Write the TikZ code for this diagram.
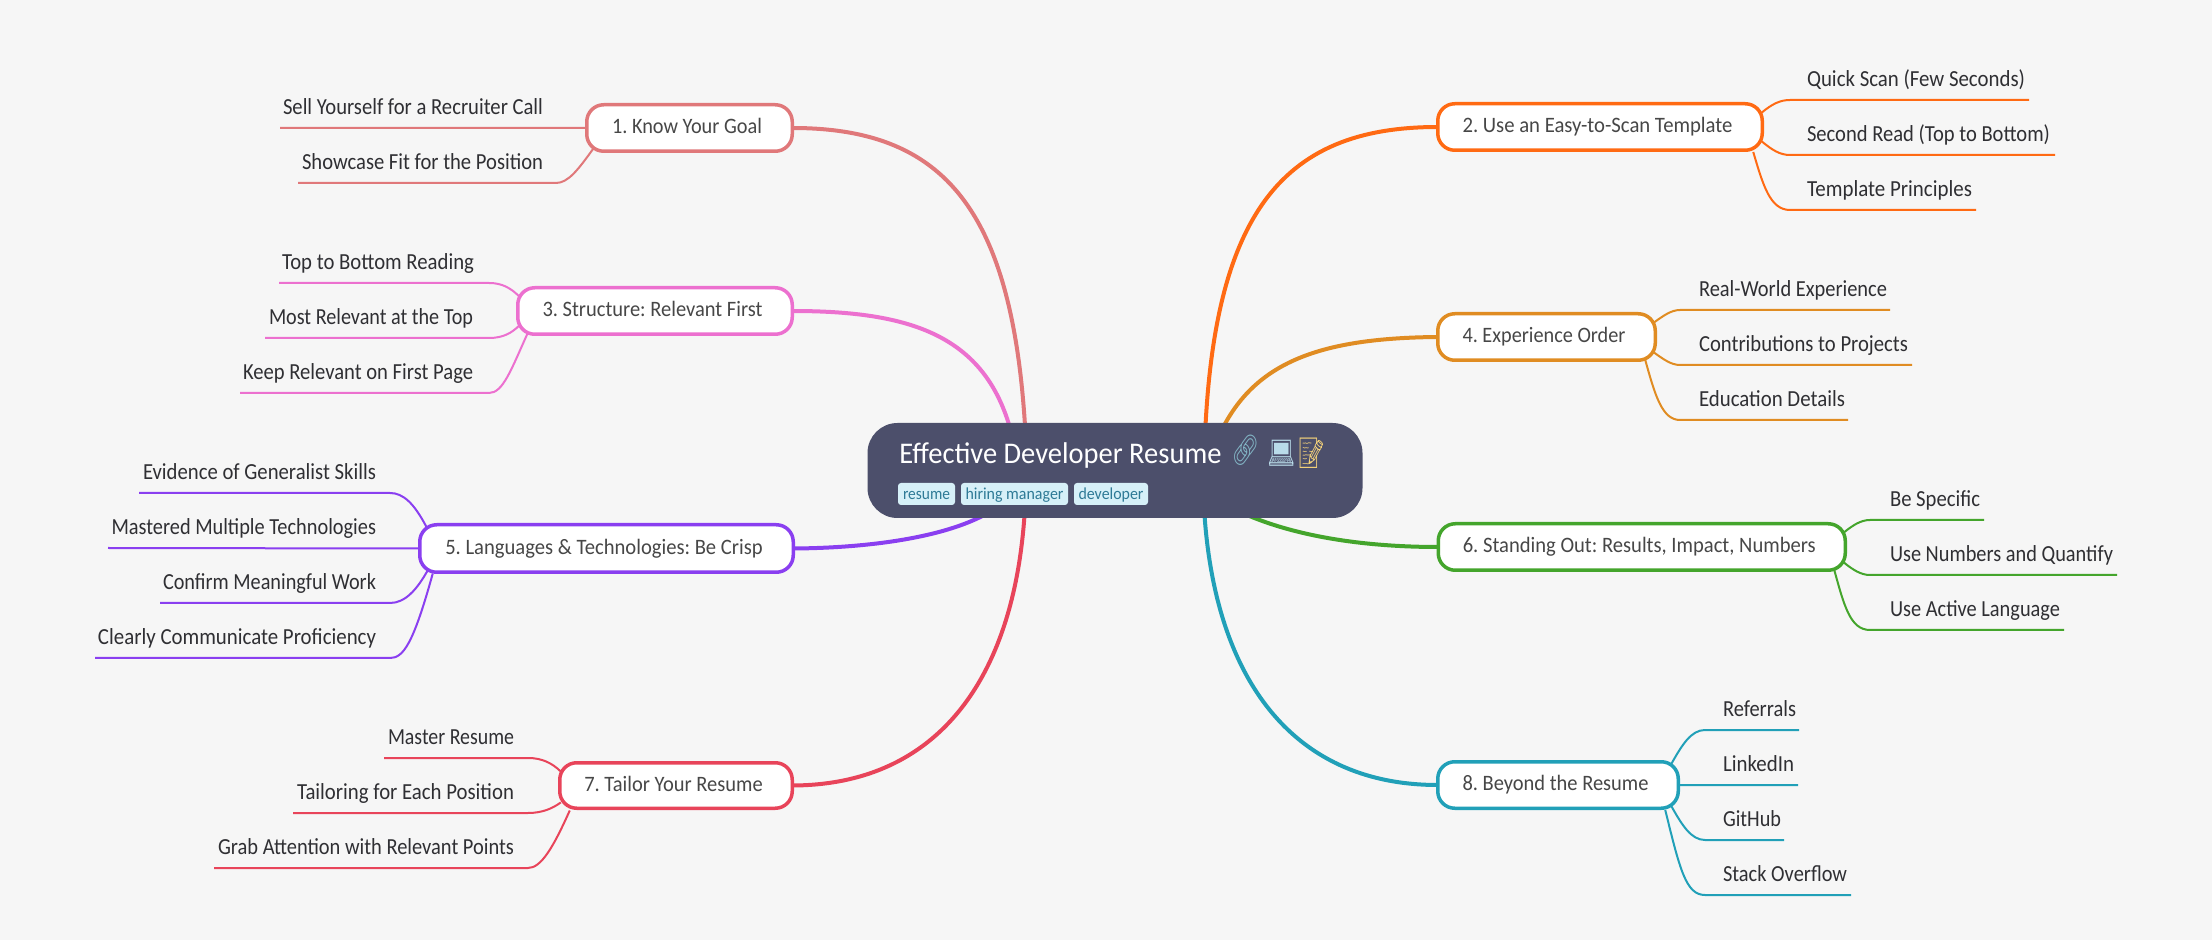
\documentclass[tikz,border=0pt]{standalone}
\usepackage{graphicx}
\usepackage{fontspec}
\setmainfont{Carlito}
\newfontfamily\emo{Noto Emoji}
\newlength\pxu
\setlength\pxu{0.5pt}
\definecolor{bgc}{HTML}{F6F6F6}
\definecolor{rootc}{HTML}{4C4F6B}
\definecolor{tagc}{HTML}{D6F0F8}
\definecolor{tagt}{HTML}{2E7A96}
\definecolor{leaft}{HTML}{2F2F33}
\definecolor{topict}{HTML}{474747}
\definecolor{cLink}{HTML}{82B4C4}
\definecolor{cLap}{HTML}{B9DBE9}
\definecolor{cMemo}{HTML}{F4D27A}
\definecolor{cA}{HTML}{E0787A}
\definecolor{cB}{HTML}{FF6A13}
\definecolor{cC}{HTML}{EC70CF}
\definecolor{cD}{HTML}{E08C22}
\definecolor{cE}{HTML}{8A3FF0}
\definecolor{cF}{HTML}{44A52C}
\definecolor{cG}{HTML}{E8445A}
\definecolor{cH}{HTML}{21A0B8}
\pgfdeclarelayer{conn}
\pgfsetlayers{conn,main}
\frenchspacing
\newcommand\tw[2]{\resizebox{#1\pxu}{\height}{#2}}
\tikzset{
  rootbox/.style={fill=rootc,draw=none,rounded corners=15pt,inner sep=0,outer sep=0,minimum width=495\pxu,minimum height=95\pxu},
  titletext/.style={anchor=base west,inner sep=0,text=white,font=\fontsize{15pt}{17pt}\selectfont},
  emoji/.style={anchor=base west,inner sep=0,font=\emo\fontsize{15pt}{17pt}\selectfont},
  tagbox/.style={fill=tagc,rounded corners=1.5pt,inner sep=0,outer sep=0,minimum height=22\pxu,text=tagt,text height=8pt,text depth=2pt,font=\fontsize{8.4pt}{10pt}\selectfont},
  topicbox/.style={fill=white,draw=#1,line width=1.75pt,rounded corners=8.5pt,inner sep=0,outer sep=0,text=topict,text height=8pt,text depth=2pt,font=\fontsize{11pt}{13pt}\selectfont},
  leafbox/.style={anchor=base west,inner sep=0,outer sep=0,text=leaft,text depth=13.8\pxu,font=\fontsize{11.5pt}{13pt}\selectfont},
  thick link/.style={draw=#1,line width=2pt},
  thin link/.style={draw=#1,line width=1pt},
}
\newcommand\topic[7]{% name colour cx cy w h textwidth+text
  \node[topicbox=#2,minimum width=#5\pxu-3.5\pxu,minimum height=#6\pxu-3.5\pxu] (#1) at (#3,#4) {\hspace*{-5\pxu}#7};}
\newcommand\leaf[7]{% name x1 x2 tx1 tx2 liney text
  \pgfmathsetmacro\padL{#4-#2}\pgfmathsetmacro\padR{#3-#5}\pgfmathsetmacro\wid{#5-#4}%
  \node[leafbox] (#1) at (#2,#6-13.8) {\hspace*{\padL\pxu}\tw{\wid}{#7}\hspace*{\padR\pxu}};}
\begin{document}
\begin{tikzpicture}[x=0.5pt,y=-0.5pt]
\useasboundingbox (0,0) rectangle (2212,940);
\begin{pgfonlayer}{conn}
\fill[bgc] (0,0) rectangle (2212,940);
\end{pgfonlayer}
% root
\node[rootbox] (root) at (1115,470.5) {};
\node[titletext] (title) at (899,463.2) {\tw{322}{Effective Developer Resume}};
\node[emoji,text=cLink] (ea) at (1231,461) {\tw{28}{🔗}};
\node[emoji,text=cLap] (eb) at (1267,464) {\tw{28}{💻}};
\node[emoji,text=cMemo] (ec) at (1297,464) {\tw{28}{📝}};
\node[tagbox,minimum width=57\pxu] (ga) at (926.5,494) {\tw{47}{resume}};
\node[tagbox,minimum width=107\pxu] (gb) at (1014.5,494) {\tw{98}{hiring manager}};
\node[tagbox,minimum width=74\pxu] (gc) at (1111,494) {\tw{65}{developer}};
% topics
\topic{tA}{cA}{689.5}{128}{209}{50}{\tw{150}{1. Know Your Goal}}
\topic{tB}{cB}{1600}{127}{328}{50}{\tw{270}{2. Use an Easy-to-Scan Template}}
\topic{tC}{cC}{655}{311}{278}{50}{\tw{220}{3. Structure: Relevant First}}
\topic{tD}{cD}{1546.5}{337}{221}{50}{\tw{163}{4. Experience Order}}
\topic{tE}{cE}{606.5}{548.5}{377}{51}{\tw{317.5}{5. Languages \& Technologies: Be Crisp}}
\topic{tF}{cF}{1641.75}{547}{410.5}{50}{\tw{353}{6. Standing Out: Results, Impact, Numbers}}
\topic{tG}{cG}{676}{785.5}{236}{49}{\tw{178.5}{7. Tailor Your Resume}}
\topic{tH}{cH}{1558}{785}{244}{50}{\tw{186}{8. Beyond the Resume}}
% leaves
\leaf{lAa}{280}{545}{283}{543}{128}{Sell Yourself for a Recruiter Call}
\leaf{lAb}{298}{556}{302}{543}{183}{Showcase Fit for the Position}
\leaf{lCa}{279}{489}{282}{474}{283}{Top to Bottom Reading}
\leaf{lCb}{265}{489}{269}{473}{338}{Most Relevant at the Top}
\leaf{lCc}{240}{489}{243}{473}{393}{Keep Relevant on First Page}
\leaf{lEa}{139}{390}{143}{376}{493}{Evidence of Generalist Skills}
\leaf{lEb}{108}{390}{111.5}{376}{548}{Mastered Multiple Technologies}
\leaf{lEc}{160}{390}{163}{376}{603}{Confirm Meaningful Work}
\leaf{lEd}{95}{390}{98}{376}{658}{Clearly Communicate Proficiency}
\leaf{lGa}{384}{528}{388}{514}{758}{Master Resume}
\leaf{lGb}{293}{528}{297}{514}{813}{Tailoring for Each Position}
\leaf{lGc}{214}{528}{218}{514}{868}{Grab Attention with Relevant Points}
\leaf{lBa}{1790}{2029}{1807}{2025}{100}{Quick Scan (Few Seconds)}
\leaf{lBb}{1790}{2055}{1807}{2050}{155}{Second Read (Top to Bottom)}
\leaf{lBc}{1790}{1976}{1807}{1972}{210}{Template Principles}
\leaf{lDa}{1680}{1890}{1699}{1887}{310}{Real-World Experience}
\leaf{lDb}{1680}{1912}{1699}{1908}{365}{Contributions to Projects}
\leaf{lDc}{1680}{1848}{1699}{1845}{420}{Education Details}
\leaf{lFa}{1870}{1984}{1890}{1980}{520}{Be Specific}
\leaf{lFb}{1870}{2117}{1890}{2113}{575}{Use Numbers and Quantify}
\leaf{lFc}{1870}{2064}{1890}{2060}{630}{Use Active Language}
\leaf{lHa}{1705}{1799}{1723}{1796}{730}{Referrals}
\leaf{lHb}{1705}{1798}{1723}{1794}{785}{LinkedIn}
\leaf{lHc}{1705}{1784}{1723}{1781}{840}{GitHub}
\leaf{lHd}{1705}{1851}{1723}{1847}{895}{Stack Overflow}
\begin{pgfonlayer}{conn}
% main branches
\draw[thick link=cA] (tA.east) .. controls (950,128) and (1020,215) .. ([shift={(-88,0)}]root.center);
\draw[thick link=cB] (tB.west) .. controls (1280,127) and (1208,215) .. ([shift={(89,0)}]root.center);
\draw[thick link=cC] (tC.east) .. controls (910,311) and (985,335) .. ([shift={(-104,-39)}]root.center);
\draw[thick link=cD] (tD.west) .. controls (1320,338) and (1255,362) .. ([shift={(106,-39)}]root.center);
\draw[thick link=cE] (tE.east) .. controls (870,548) and (950,537) .. ([shift={(-123,40)}]root.center);
\draw[thick link=cF] (tF.west) .. controls (1370,547) and (1295,538) .. ([shift={(122,40)}]root.center);
\draw[thick link=cG] (tG.east) .. controls (950,785) and (1026,660) .. ([shift={(-89,0)}]root.center);
\draw[thick link=cH] (tH.west) .. controls (1280,785) and (1203,660) .. ([shift={(88,0)}]root.center);
% leaf links left
\draw[thin link=cA] (tA.west) -- (lAa.south west);
\draw[thin link=cA] (lAb.south west) -- (lAb.south east) .. controls (568,183) and (578,170) .. ([shift={(7,20)}]tA.west);
\draw[thin link=cC] (lCa.south west) -- (lCa.south east) .. controls (502,283) and (511,288) .. ([shift={(2,-14)}]tC.west);
\draw[thin link=cC] (lCb.south west) -- (lCb.south east) .. controls (503,338) and (512,333) .. ([shift={(2,14)}]tC.west);
\draw[thin link=cC] (lCc.south west) -- (lCc.south east) .. controls (503,393) and (511,370) .. ([shift={(10,22)}]tC.west);
\draw[thin link=cE] (lEa.south west) -- (lEa.south east) .. controls (403,493) and (414,503) .. ([shift={(7,-21)}]tE.west);
\draw[thin link=cE] (tE.west) -- (lEb.south west);
\draw[thin link=cE] (lEc.south west) -- (lEc.south east) .. controls (405,603) and (417,590) .. ([shift={(9,20)}]tE.west);
\draw[thin link=cE] (lEd.south west) -- (lEd.south east) .. controls (403,658) and (413,645) .. ([shift={(13,25)}]tE.west);
\draw[thin link=cG] (lGa.south west) -- (lGa.south east) .. controls (542,758) and (552,763) .. ([shift={(1,-14)}]tG.west);
\draw[thin link=cG] (lGb.south west) -- (lGb.south east) .. controls (543,813) and (553,808) .. ([shift={(1,17)}]tG.west);
\draw[thin link=cG] (lGc.south west) -- (lGc.south east) .. controls (541,868) and (553,848) .. ([shift={(10,25)}]tG.west);
% leaf links right
\draw[thin link=cB] ([shift={(-1,-14)}]tB.east) .. controls (1772,104) and (1780,100) .. (lBa.south west) -- (lBa.south east);
\draw[thin link=cB] ([shift={(-1,14)}]tB.east) .. controls (1772,150) and (1780,155) .. (lBb.south west) -- (lBb.south east);
\draw[thin link=cB] ([shift={(-9,25)}]tB.east) .. controls (1763,185) and (1770,210) .. (lBc.south west) -- (lBc.south east);
\draw[thin link=cD] ([shift={(-2,-14)}]tD.east) .. controls (1663,316) and (1671,310) .. (lDa.south west) -- (lDa.south east);
\draw[thin link=cD] ([shift={(-2,15)}]tD.east) .. controls (1663,359) and (1671,365) .. (lDb.south west) -- (lDb.south east);
\draw[thin link=cD] ([shift={(-10,23)}]tD.east) .. controls (1655,395) and (1662,420) .. (lDc.south west) -- (lDc.south east);
\draw[thin link=cF] ([shift={(-2,-14)}]tF.east) .. controls (1853,525) and (1861,520) .. (lFa.south west) -- (lFa.south east);
\draw[thin link=cF] ([shift={(-2,15)}]tF.east) .. controls (1853,570) and (1861,575) .. (lFb.south west) -- (lFb.south east);
\draw[thin link=cF] ([shift={(-11,23)}]tF.east) .. controls (1844,605) and (1850,630) .. (lFc.south west) -- (lFc.south east);
\draw[thin link=cH] ([shift={(-7,-21)}]tH.east) .. controls (1682,745) and (1691,730) .. (lHa.south west) -- (lHa.south east);
\draw[thin link=cH] (tH.east) -- (lHb.south east);
\draw[thin link=cH] ([shift={(-7,21)}]tH.east) .. controls (1682,825) and (1691,840) .. (lHc.south west) -- (lHc.south east);
\draw[thin link=cH] ([shift={(-13,25)}]tH.east) .. controls (1680,870) and (1686,895) .. (lHd.south west) -- (lHd.south east);
\end{pgfonlayer}
\end{tikzpicture}
\end{document}
